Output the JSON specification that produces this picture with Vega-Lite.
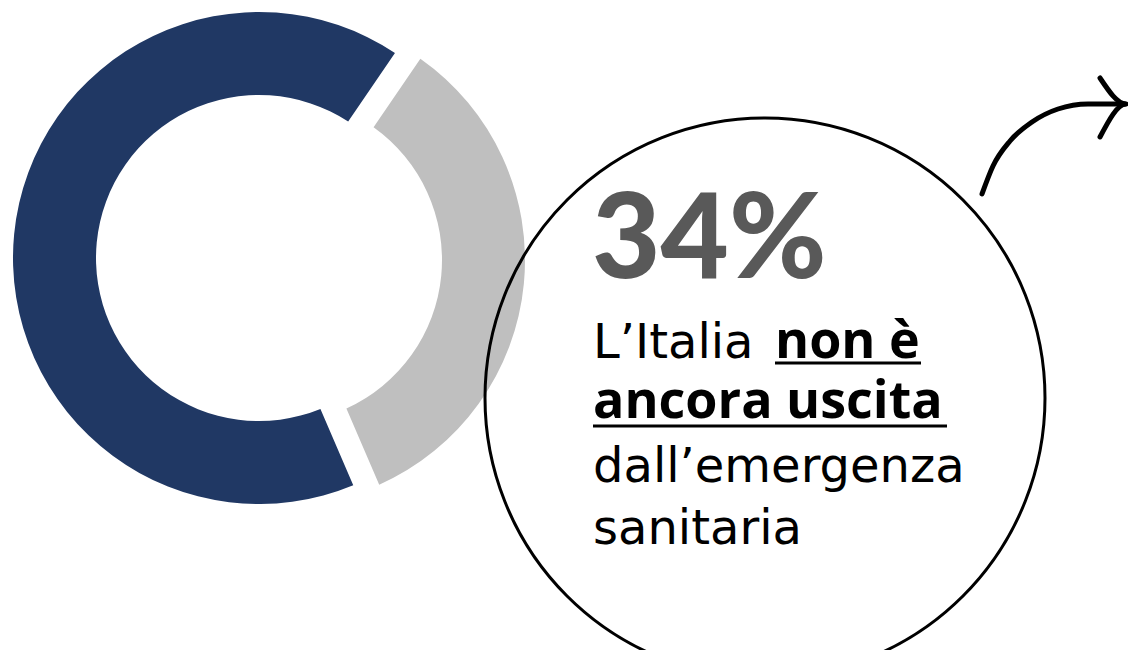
{
  "$schema": "https://vega.github.io/schema/vega-lite/v6.json",
  "width": 1128,
  "height": 650,
  "autosize": {"type": "none"},
  "padding": 0,
  "background": "white",
  "config": {"view": {"stroke": null}},
  "datasets": {
    "donut": [
      {"risposta": "Non è ancora uscita", "pct": 34},
      {"risposta": "Altro", "pct": 66}
    ],
    "bubble": [{"cx": 765, "cy": 398}],
    "texts": [
      {"t": "34%", "x": 592, "y": 278, "kind": "big"},
      {"t": "L’Italia", "x": 593, "y": 358, "kind": "reg"},
      {"t": "non è", "x": 775, "y": 358, "kind": "bold"},
      {"t": "ancora uscita", "x": 593, "y": 418, "kind": "bold"},
      {"t": "dall’emergenza", "x": 593, "y": 482, "kind": "reg"},
      {"t": "sanitaria", "x": 593, "y": 544, "kind": "reg"}
    ],
    "underline": [
      {"x1": 775, "x2": 921, "y": 363},
      {"x1": 593, "x2": 947, "y": 426}
    ],
    "arrow": [
      {"seg": "curve", "i": 0, "x": 982, "y": 194},
      {"seg": "curve", "i": 1, "x": 993, "y": 166},
      {"seg": "curve", "i": 2, "x": 1010, "y": 141},
      {"seg": "curve", "i": 3, "x": 1032, "y": 122},
      {"seg": "curve", "i": 4, "x": 1058, "y": 109},
      {"seg": "curve", "i": 5, "x": 1088, "y": 104},
      {"seg": "curve", "i": 6, "x": 1125, "y": 104},
      {"seg": "head", "i": 0, "x": 1100, "y": 78},
      {"seg": "head", "i": 1, "x": 1126, "y": 104},
      {"seg": "head", "i": 2, "x": 1100, "y": 137}
    ]
  },
  "layer": [
    {
      "data": {"name": "donut"},
      "transform": [
        {"window": [{"op": "sum", "field": "pct", "as": "fine"}], "sort": [{"field": "pct", "order": "ascending"}]},
        {"calculate": "datum.fine - datum.pct", "as": "inizio"},
        {"calculate": "datum.risposta === 'Altro' ? 259 : 279", "as": "cx"},
        {"calculate": "datum.risposta === 'Altro' ? 258 : 260", "as": "cy"}
      ],
      "mark": {"type": "arc", "outerRadius": 246, "innerRadius": 163, "padAngle": 0.022},
      "encoding": {
        "x": {"field": "cx", "type": "quantitative", "scale": {"domain": [0, 1128], "nice": false, "zero": false}, "axis": null},
        "y": {"field": "cy", "type": "quantitative", "scale": {"domain": [650, 0], "nice": false, "zero": false}, "axis": null},
        "theta": {"field": "inizio", "type": "quantitative", "stack": null, "scale": {"domain": [0, 100], "range": [0.599, 6.882], "nice": false, "zero": false}},
        "theta2": {"field": "fine"},
        "color": {"field": "risposta", "type": "nominal", "legend": null,
          "scale": {"domain": ["Non è ancora uscita", "Altro"], "range": ["#BFBFBF", "#203864"]}}
      }
    },
    {
      "data": {"name": "bubble"},
      "mark": {"type": "point", "shape": "circle", "size": 313600, "filled": false, "stroke": "black", "strokeWidth": 3, "opacity": 1},
      "encoding": {
        "x": {"field": "cx", "type": "quantitative"},
        "y": {"field": "cy", "type": "quantitative"}
      }
    },
    {
      "data": {"name": "arrow"},
      "mark": {"type": "line", "color": "black", "strokeWidth": 5, "strokeCap": "round", "strokeJoin": "round", "interpolate": "monotone"},
      "encoding": {
        "x": {"field": "x", "type": "quantitative"},
        "y": {"field": "y", "type": "quantitative"},
        "detail": {"field": "seg", "type": "nominal"},
        "order": {"field": "i", "type": "quantitative"}
      }
    },
    {
      "data": {"name": "underline"},
      "mark": {"type": "rule", "color": "black", "strokeWidth": 3},
      "encoding": {
        "x": {"field": "x1", "type": "quantitative"},
        "x2": {"field": "x2"},
        "y": {"field": "y", "type": "quantitative"}
      }
    },
    {
      "data": {"name": "texts"},
      "transform": [{"filter": "datum.kind === 'big'"}],
      "mark": {"type": "text", "align": "left", "baseline": "alphabetic", "font": "Lato", "fontWeight": 900, "fontSize": 118, "color": "#595959"},
      "encoding": {
        "x": {"field": "x", "type": "quantitative"},
        "y": {"field": "y", "type": "quantitative"},
        "text": {"field": "t"}
      }
    },
    {
      "data": {"name": "texts"},
      "transform": [{"filter": "datum.kind === 'reg'"}],
      "mark": {"type": "text", "align": "left", "baseline": "alphabetic", "font": "DejaVu Sans", "fontSize": 48, "color": "black"},
      "encoding": {
        "x": {"field": "x", "type": "quantitative"},
        "y": {"field": "y", "type": "quantitative"},
        "text": {"field": "t"}
      }
    },
    {
      "data": {"name": "texts"},
      "transform": [{"filter": "datum.kind === 'bold'"}],
      "mark": {"type": "text", "align": "left", "baseline": "alphabetic", "font": "Open Sans", "fontWeight": "bold", "fontSize": 52, "color": "black"},
      "encoding": {
        "x": {"field": "x", "type": "quantitative"},
        "y": {"field": "y", "type": "quantitative"},
        "text": {"field": "t"}
      }
    }
  ]
}
